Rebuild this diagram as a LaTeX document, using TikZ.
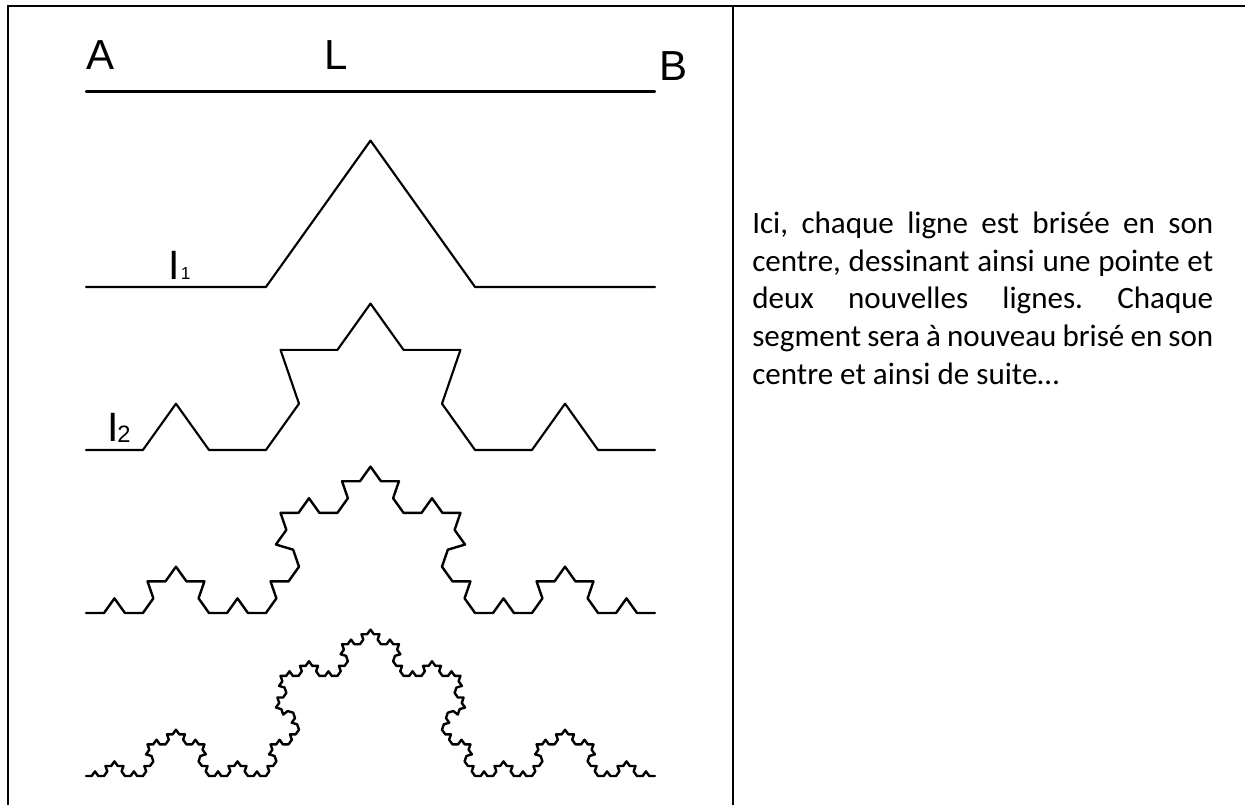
\documentclass[tikz,border=0pt]{standalone}
\usepackage{fontspec}
\setmainfont{Carlito}
\newfontfamily\helv{Liberation Sans}
\frenchspacing
\begin{document}
\begin{tikzpicture}[x=0.75pt,y=-0.75pt,
  declare function={kt(\d)=(\d==1)-(\d==2);},
  border/.style={line width=1.5pt, line cap=rect},
  koch/.style={line width=1.6pt, line join=round, line cap=round},
  lab/.style={inner sep=0pt, anchor=base west, font=\helv},
  txt/.style={inner sep=0pt, anchor=base west, font=\fontsize{23.3}{28}\selectfont}]
\useasboundingbox (0,0) rectangle (1245,805);
% table borders
\coordinate (bl) at (7.5,805);
\coordinate (tl) at (7.5,6.5);
\coordinate (tr) at (1245,6.5);
\coordinate (mt) at (733,6.5);
\coordinate (mb) at (733,805);
\draw[border] (bl) -- (tl) -- (tr);
\draw[border] (mt) -- (mb);
% labels
\node[lab] (A) at (86,70) {\fontsize{31.5}{36}\selectfont A};
\node[lab] (L) at (324,70) {\fontsize{31.5}{36}\selectfont L};
\node[lab] (B) at (659,81) {\fontsize{31.5}{36}\selectfont B};
\node[lab] (I1) at (168,280) {\fontsize{30.75}{34}\selectfont I};
\node[lab] (s1) at (180.5,280) {\fontsize{13}{15}\selectfont 1};
\node[lab] (I2) at (107,441) {\fontsize{30.75}{34}\selectfont I};
\node[lab] (s2) at (117,442) {\fontsize{17.8}{20}\selectfont 2};
% curves
\coordinate (k0a) at (86,91.5);
\coordinate (k0b) at (655,91.5);
\draw[koch] (k0a) -- (k0b);
\coordinate (k1) at (86,287);
\coordinate (k2) at (86,450);
\coordinate (k3) at (86,613);
\coordinate (k4) at (86,776);
\draw[koch] (k1) \foreach \k [evaluate={\k as \a using 54.47*(kt(mod(\k,4))+kt(mod(int(\k/4),4))+kt(mod(int(\k/16),4))+kt(mod(int(\k/64),4)))}] in {0,...,3} {-- ++(\a:134.95pt)};
\draw[koch] (k2) \foreach \k [evaluate={\k as \a using 54.47*(kt(mod(\k,4))+kt(mod(int(\k/4),4))+kt(mod(int(\k/16),4))+kt(mod(int(\k/64),4)))}] in {0,...,15} {-- ++(\a:42.675pt)};
\draw[koch, line width=1.8pt] (k3) \foreach \k [evaluate={\k as \a using 54.47*(kt(mod(\k,4))+kt(mod(int(\k/4),4))+kt(mod(int(\k/16),4))+kt(mod(int(\k/64),4)))}] in {0,...,63} {-- ++(\a:13.495pt)};
\draw[koch, line width=1.8pt] (k4) \foreach \k [evaluate={\k as \a using 54.47*(kt(mod(\k,4))+kt(mod(int(\k/4),4))+kt(mod(int(\k/16),4))+kt(mod(int(\k/64),4)))}] in {0,...,255} {-- ++(\a:4.2675pt)};
% text
\node[txt] (t1) at (752,234) {\makebox[345.75pt][s]{Ici, chaque ligne est brisée en son}};
\node[txt] (t2) at (752,271.5) {\makebox[345.75pt][s]{centre, dessinant ainsi une pointe et}};
\node[txt] (t3) at (752,309) {\makebox[345.75pt][s]{deux nouvelles lignes. Chaque}};
\node[txt] (t4) at (752,346.5) {\makebox[345.75pt][s]{segment sera à nouveau brisé en son}};
\node[txt] (t5) at (752,384) {centre et ainsi de suite…};
\end{tikzpicture}
\end{document}
